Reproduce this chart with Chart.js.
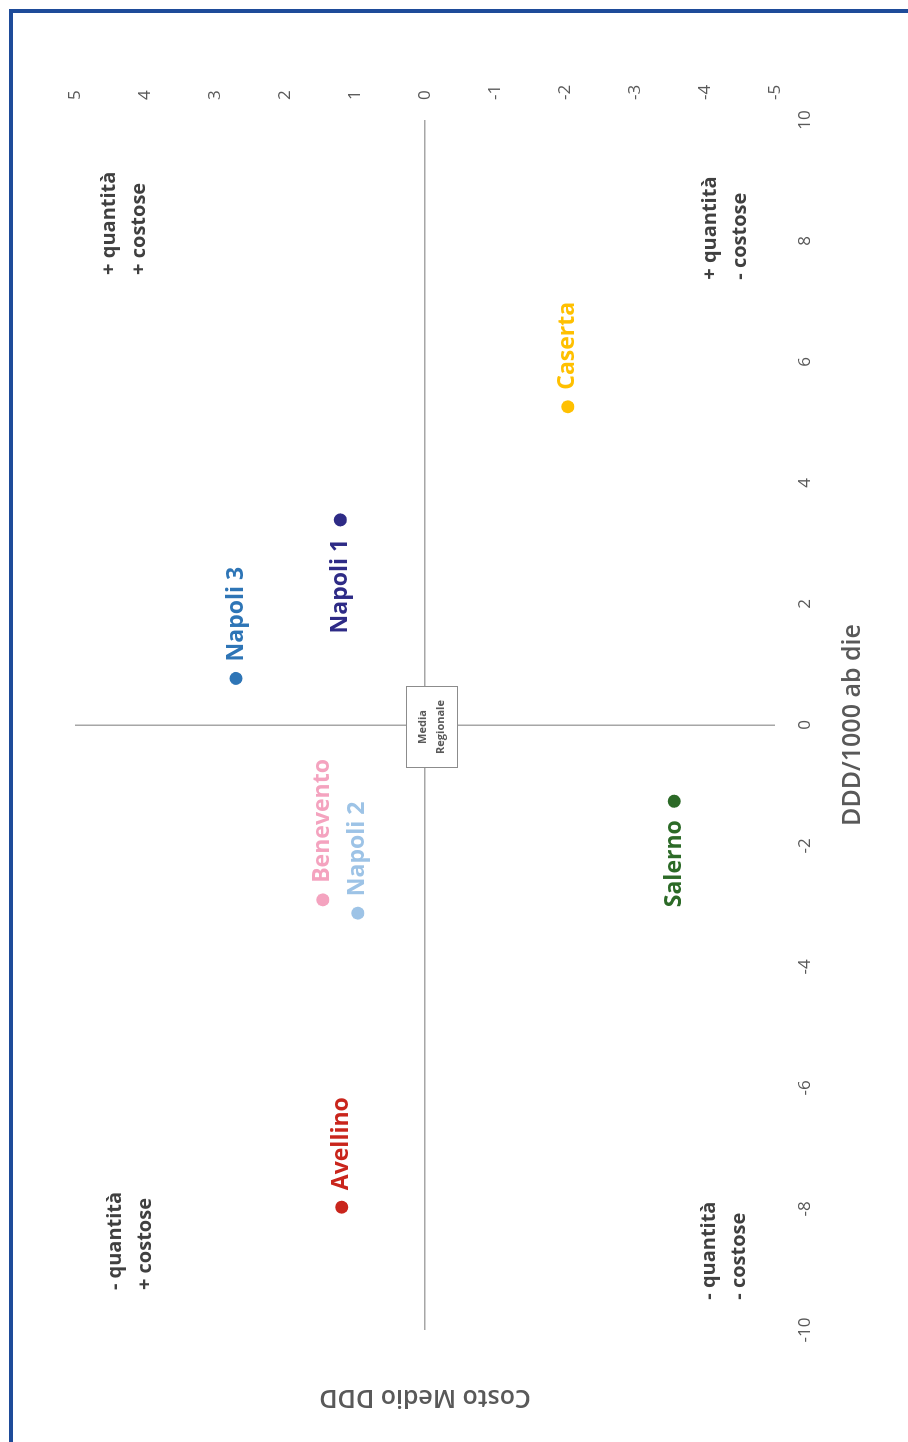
<!DOCTYPE html>
<html>
<head>
<meta charset="utf-8">
<script src="https://cdn.jsdelivr.net/npm/chart.js@4.4.1/dist/chart.umd.min.js"></script>
<style>
  html, body { margin: 0; padding: 0; background: #fff; }
  body { width: 908px; height: 1442px; overflow: hidden; position: relative; }
  #frame {
    position: absolute; left: 9px; top: 9px; right: -20px; bottom: -20px;
    border-top: 4px solid #1E4B99; border-left: 4px solid #1E4B99;
  }
  /* the chart is drawn landscape, then turned a quarter to the left */
  #wrap {
    position: absolute; left: 0; top: 0; width: 1442px; height: 908px;
    transform-origin: 0 0; transform: translate(0, 1442px) rotate(-90deg);
  }
</style>
</head>
<body>
<div id="frame"></div>
<div id="wrap"><canvas id="chart" width="1442" height="908"></canvas></div>
<script>
// ASL values: DDD/1000 ab die (x) vs Costo Medio DDD (y), both as gap from regional mean
const units = ['Napoli 3', 'Napoli 1', 'Caserta', 'Salerno', 'Benevento', 'Napoli 2', 'Avellino'];
const ddd   = [0.77, 3.39, 5.26, -1.26, -2.89, -3.11, -7.97];
const costo = [2.70, 1.21, -2.04, -3.56, 1.46, 0.96, 1.19];
const pointColors = ['#2E75B6', '#2E2B86', '#FFC000', '#2C6A27', '#F4A3BF', '#9DC3E6', '#C9251C'];
const labelSide = ['right', 'left', 'right', 'left', 'right', 'right', 'right'];

const quadrantText = [
  ['+ quantità', '+ costose'],
  ['+ quantità', '- costose'],
  ['- quantità', '+ costose'],
  ['- quantità', '- costose'],
];
const quadrantX = [7.44, 7.36, -9.34, -9.5];
const quadrantY = [4.29, -4.29, 4.21, -4.27];

const AXIS_GREY = '#A6A6A6';
const TEXT_GREY = '#595959';

const zeroLine = (ctx) => (ctx.tick && ctx.tick.value === 0) ? AXIS_GREY : 'rgba(0,0,0,0)';

const annotations = {
  id: 'annotations',
  afterDatasetsDraw(chart) {
    const ctx = chart.ctx;
    const sx = chart.scales.x, sy = chart.scales.y;
    ctx.save();

    // "Media Regionale" box at the origin
    const cx = sx.getPixelForValue(0) - 2;
    const cy = sy.getPixelForValue(0) + 7;
    ctx.fillStyle = '#fff';
    ctx.strokeStyle = '#8C8C8C';
    ctx.lineWidth = 1;
    ctx.fillRect(cx - 41, cy - 26, 82, 52);
    ctx.strokeRect(cx - 41 + 0.5, cy - 26 + 0.5, 81, 51);
    ctx.fillStyle = TEXT_GREY;
    ctx.font = 'bold 11px "Open Sans"';
    ctx.textAlign = 'center';
    ctx.textBaseline = 'middle';
    ctx.fillText('Media', cx, cy - 9);
    ctx.fillText('Regionale', cx, cy + 9);

    // point labels
    ctx.font = 'bold 23px "Open Sans"';
    const meta = chart.getDatasetMeta(0);
    meta.data.forEach((pt, i) => {
      const right = labelSide[i] === 'right';
      ctx.fillStyle = pointColors[i];
      ctx.textAlign = right ? 'left' : 'right';
      ctx.fillText(units[i], pt.x + (right ? 17 : -19), pt.y);
    });

    // quadrant notes
    ctx.font = 'bold 20px "Open Sans"';
    ctx.fillStyle = '#404040';
    ctx.textAlign = 'left';
    quadrantText.forEach((lines, i) => {
      const px = sx.getPixelForValue(quadrantX[i]);
      const py = sy.getPixelForValue(quadrantY[i]);
      ctx.fillText(lines[0], px, py - 15);
      ctx.fillText(lines[1], px, py + 15);
    });
    ctx.restore();
  }
};

new Chart(document.getElementById('chart').getContext('2d'), {
  type: 'scatter',
  data: {
    datasets: [{
      data: ddd.map((v, i) => ({ x: v, y: costo[i] })),
      backgroundColor: pointColors,
      borderWidth: 0,
      pointRadius: 6.5,
    }],
  },
  options: {
    responsive: false,
    animation: false,
    devicePixelRatio: 1,
    layout: { padding: { top: 75, right: 0, bottom: 0, left: 0 } },
    plugins: { legend: { display: false }, tooltip: { enabled: false } },
    scales: {
      x: {
        type: 'linear', position: 'bottom', min: -10, max: 10,
        afterFit: (s) => { s.height = 133; },
        ticks: { stepSize: 2, padding: 20, color: TEXT_GREY, font: { family: 'Open Sans', size: 17 } },
        grid: { color: zeroLine, lineWidth: 1.5, drawTicks: false },
        border: { display: false },
        title: {
          display: true, text: 'DDD/1000 ab die', color: TEXT_GREY,
          font: { family: 'Open Sans', size: 25, weight: '600' }, padding: { top: 0, bottom: 40 },
        },
      },
      y: {
        type: 'linear', position: 'right', min: -5, max: 5,
        afterFit: (s) => { s.width = 120; },
        ticks: { stepSize: 1, padding: 20, color: TEXT_GREY, font: { family: 'Open Sans', size: 17 } },
        grid: { color: zeroLine, lineWidth: 1.5, drawTicks: false },
        border: { display: false },
      },
      y2: {
        type: 'linear', position: 'left', min: -5, max: 5,
        afterFit: (s) => { s.width = 112; },
        ticks: { display: false },
        grid: { display: false, drawTicks: false },
        border: { display: false },
        title: {
          display: true, text: 'Costo Medio DDD', color: TEXT_GREY,
          font: { family: 'Open Sans', size: 25, weight: '600' }, padding: { top: 30, bottom: 0 },
        },
      },
    },
  },
  plugins: [annotations],
});
</script>
</body>
</html>
